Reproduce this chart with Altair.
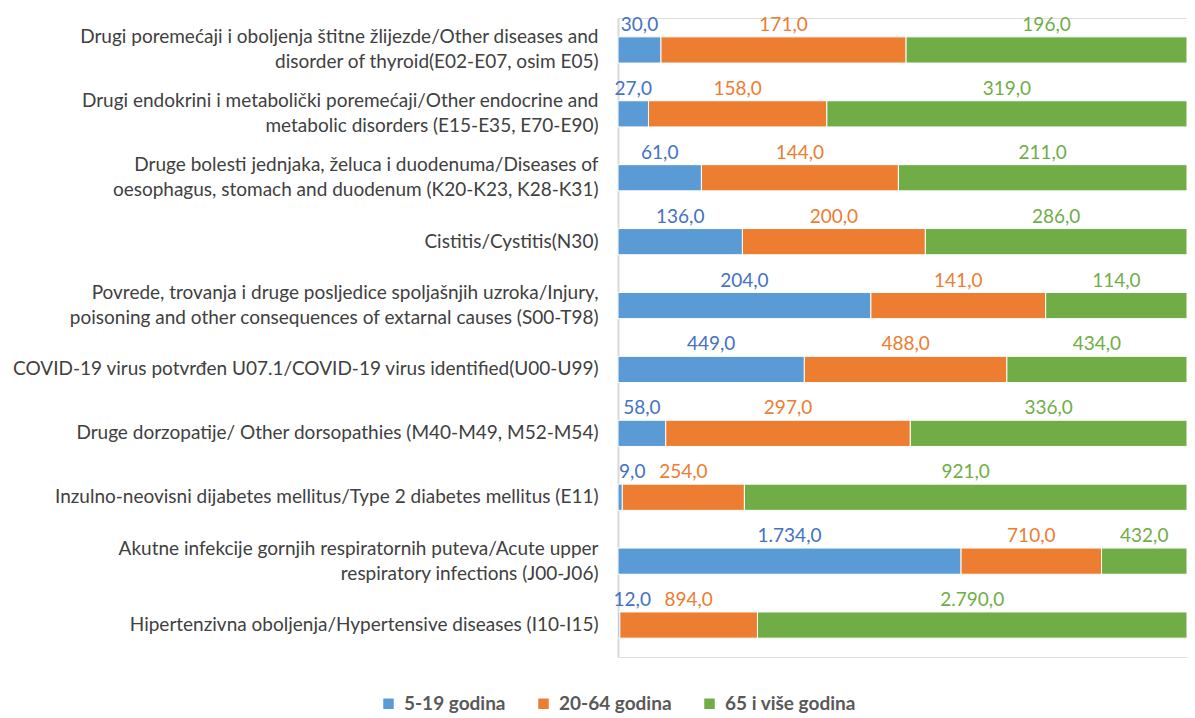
import altair as alt
import pandas as pd

categories = [
    "Drugi poremećaji i oboljenja štitne žlijezde/Other diseases and|disorder of thyroid(E02-E07, osim E05)",
    "Drugi endokrini i metabolički poremećaji/Other endocrine and|metabolic disorders (E15-E35, E70-E90)",
    "Druge bolesti jednjaka, želuca i duodenuma/Diseases of|oesophagus, stomach and duodenum (K20-K23, K28-K31)",
    "Cistitis/Cystitis(N30)",
    "Povrede, trovanja i druge posljedice spoljašnjih uzroka/Injury,|poisoning and other consequences of extarnal causes (S00-T98)",
    "COVID-19 virus potvrđen U07.1/COVID-19 virus identified(U00-U99)",
    "Druge dorzopatije/ Other dorsopathies (M40-M49, M52-M54)",
    "Inzulno-neovisni dijabetes mellitus/Type 2 diabetes mellitus (E11)",
    "Akutne infekcije gornjih respiratornih puteva/Acute upper|respiratory infections (J00-J06)",
    "Hipertenzivna oboljenja/Hypertensive diseases (I10-I15)",
]
series = ["5-19 godina", "20-64 godina", "65 i više godina"]
v_5_19 = [30, 27, 61, 136, 204, 449, 58, 9, 1734, 12]
v_20_64 = [171, 158, 144, 200, 141, 488, 297, 254, 710, 894]
v_65 = [196, 319, 211, 286, 114, 434, 336, 921, 432, 2790]

bar_colors = ["#5B9BD5", "#ED7D31", "#70AD47"]
label_colors = ["#4472C4", "#ED7D31", "#70AD47"]

rows = []
for s_idx, (s, vals) in enumerate(zip(series, [v_5_19, v_20_64, v_65])):
    for c, v in zip(categories, vals):
        rows.append({"category": c, "series": s, "value": v, "order": s_idx})
df = pd.DataFrame(rows)

FONT = "Lato"

base = alt.Chart(df).transform_stack(
    stack="value",
    groupby=["category"],
    as_=["x0", "x1"],
    offset="normalize",
    sort=[alt.SortField("order", order="ascending")],
).transform_calculate(
    mid="max((datum.x0 + datum.x1) / 2, 0.025)"
)

y_enc = alt.Y(
    "category:N",
    sort=categories,
    title=None,
    scale=alt.Scale(paddingInner=0.59, paddingOuter=0.295),
    axis=alt.Axis(
        labelExpr="split(datum.label, '|')",
        labelFont=FONT,
        labelFontSize=19,
        labelColor="#404040",
        labelLineHeight=25,
        labelPadding=20,
        labelLimit=800,
        labelOffset={
            "condition": {"test": "indexof(datum.value, '|') >= 0", "value": -12.5},
            "value": 0,
        },
        ticks=False,
        domainColor="#D9D9D9",
        domainWidth=2,
        labelOverlap=False,
    ),
)

x_scale = alt.Scale(domain=[0, 1], nice=False, zero=True)

bars = base.mark_bar(stroke="white", strokeWidth=1).encode(
    y=y_enc,
    x=alt.X("x0:Q", axis=None, scale=x_scale),
    x2="x1:Q",
    color=alt.Color(
        "series:N",
        sort=series,
        scale=alt.Scale(domain=series, range=bar_colors),
        legend=alt.Legend(
            title=None,
            orient="none",
            legendX=-239,
            legendY=676,
            direction="horizontal",
            symbolType="square",
            symbolSize=110,
            symbolStrokeWidth=0,
            labelFont=FONT,
            labelFontSize=19,
            labelFontWeight="bold",
            labelColor="#595959",
            labelOffset=6,
            columnPadding=28,
        ),
    ),
)

labels = base.mark_text(dy=-19, baseline="alphabetic", font=FONT, fontSize=19).encode(
    y=alt.Y("category:N", sort=categories),
    x=alt.X("mid:Q", scale=x_scale, axis=None),
    text=alt.Text("value:Q", format=",.1f"),
    color=alt.Color(
        "series:N",
        scale=alt.Scale(domain=series, range=label_colors),
        legend=None,
    ),
)

chart = (
    alt.layer(bars, labels)
    .resolve_scale(color="independent")
    .properties(
        width=569,
        height=639,
        padding={"left": 610, "top": 10, "right": 0, "bottom": 59},
        autosize="none",
    )
    .configure_view(strokeWidth=0)
    .configure(
        locale={
            "number": {
                "decimal": ",",
                "thousands": ".",
                "grouping": [3],
                "currency": ["", ""],
            }
        }
    )
)

chart.save("out.html", embed_options={"renderer": "svg", "actions": False})
